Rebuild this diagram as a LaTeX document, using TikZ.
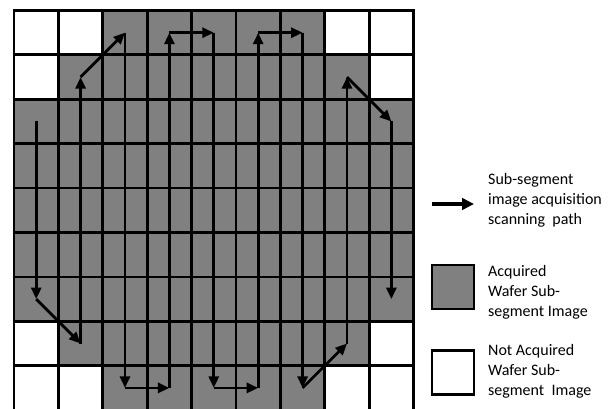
\documentclass[tikz,border=0pt]{standalone}
\usepackage{fontspec}
\setmainfont{Carlito}
\usetikzlibrary{arrows.meta}
\definecolor{wafergray}{RGB}{128,128,128}
\begin{document}
\begin{tikzpicture}[x=1pt,y=-1pt,
  gridline/.style={draw=black,line width=2.8pt},
  scan/.style={line width=2.8pt,-{Triangle[length=11.5pt,width=10pt]}},
  legarrow/.style={line width=3.6pt,-{Triangle[length=12pt,width=11.5pt]}},
  legbox/.style={draw=black,line width=2.8pt,minimum width=42pt,minimum height=44pt,inner sep=0pt},
  legtext/.style={anchor=west,align=left,inner sep=0pt,font=\fontsize{16}{20}\selectfont}]
\useasboundingbox (0,0) rectangle (608,409);
\def\cs{44.4}
\def\gx{14}
\def\gy{10.5}
% background of wafer region
\fill[wafergray] (\gx,\gy) rectangle ({\gx+9*\cs},{\gy+9*\cs});
% not acquired cells
\foreach \c/\r in {1/1,2/1,8/1,9/1,1/2,9/2,1/8,9/8,1/9,2/9,8/9,9/9}{
  \fill[white] ({\gx+(\c-1)*\cs},{\gy+(\r-1)*\cs}) rectangle ({\gx+\c*\cs},{\gy+\r*\cs});
}
% grid lines
\foreach \i in {0,...,9}{
  \draw[gridline] ({\gx+\i*\cs},{\gy-1.4}) -- ({\gx+\i*\cs},{\gy+9*\cs+1.4});
  \draw[gridline] ({\gx-1.4},{\gy+\i*\cs}) -- ({\gx+9*\cs+1.4},{\gy+\i*\cs});
}
% scanning path points
\foreach \n/\c/\r in {0/1/3,1/1/7,2/2/8,3/2/2,4/3/1,5/3/9,6/4/9,7/4/1,8/5/1,9/5/9,
                      10/6/9,11/6/1,12/7/1,13/7/9,14/8/8,15/8/2,16/9/3,17/9/7}{
  \coordinate (p\n) at ({\gx+(\c-0.5)*\cs},{\gy+(\r-0.5)*\cs});
}
\foreach \a/\b in {0/1,1/2,2/3,3/4,4/5,5/6,6/7,7/8,8/9,9/10,10/11,11/12,12/13,13/14,14/15,15/16,16/17}{
  \draw[scan] (p\a) -- (p\b);
}
% legend
\coordinate (la) at (432,204);
\coordinate (lb) at (474,204);
\draw[legarrow] (la) -- (lb);
\node[legtext] (t1) at (488,200) {Sub-segment\\image acquisition\\scanning\ \ path};
\node[legbox,fill=wafergray] (b2) at (453,287) {};
\node[legtext] (t2) at (488,292) {Acquired\\Wafer Sub-\\segment Image};
\node[legbox,fill=white] (b3) at (453,372.5) {};
\node[legtext] (t3) at (488,371) {Not Acquired\\Wafer Sub-\\segment\ \ Image};
\end{tikzpicture}
\end{document}
